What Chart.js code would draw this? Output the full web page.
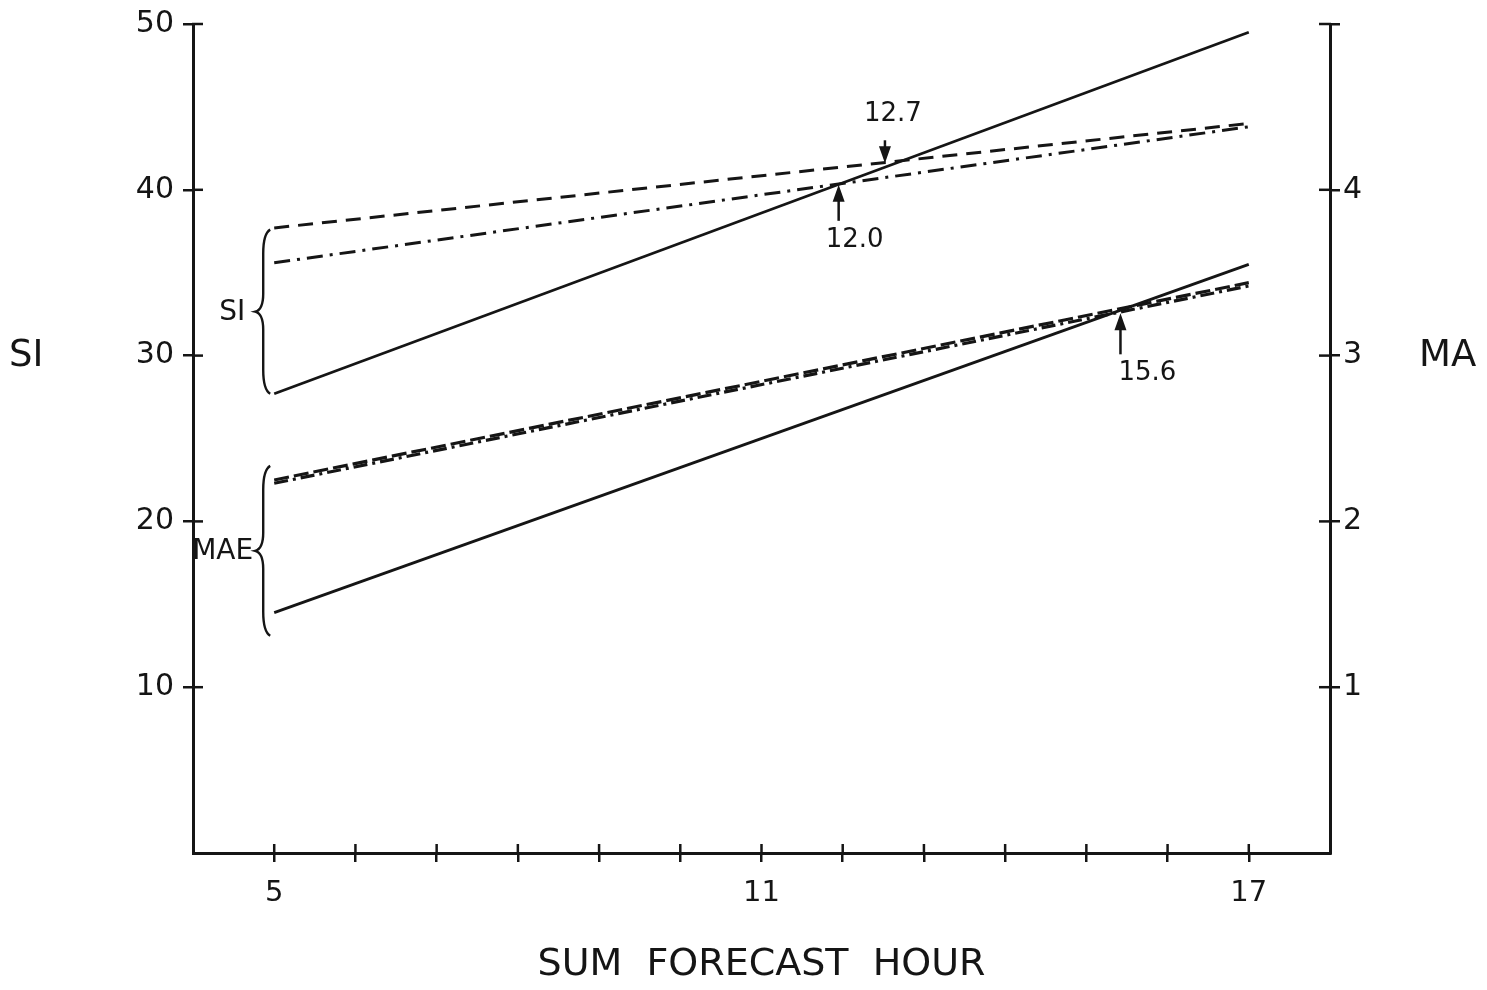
<!DOCTYPE html>
<html><head><meta charset="utf-8">
<script src="https://cdn.jsdelivr.net/npm/chart.js@4/dist/chart.umd.min.js"></script>
<style>html,body{margin:0;padding:0;background:#fff}#wrap{width:1487px;height:990px;position:relative}canvas{display:block}</style>
</head><body><div id="wrap"><canvas id="c" width="1487" height="990" style="width:1487px;height:990px"></canvas></div>
<script>
// ---- data ----
const hours = [5, 17];
const siSolid = [27.7, 49.5];      // SI, left axis
const siDashed = [37.7, 44.0];
const siDashDot = [35.6, 43.8];
const maeSolid = [1.45, 3.55];     // MAE, right axis (MA)
const maeDashed = [2.25, 3.44];
const maeDashDot = [2.23, 3.42];
const xTickValues = [5, 6, 7, 8, 9, 10, 11, 12, 13, 14, 15, 16, 17];
const xTickLabels = ['5', '11', '17'];
const siTicks = [10, 20, 30, 40, 50];
const maTicks = [1, 2, 3, 4, 5];
const maTickLabels = ['1', '2', '3', '4'];
const crossLabels = ['12.7', '12.0', '15.6'];
const crossX = [12.52, 11.95, 15.42];
const crossY = [41.6, 40.3, 32.55];
const braceLabels = ['SI', 'MAE'];
const braceTop = [37.6, 23.35];
const braceBottom = [27.7, 13.1];

// ---- styles ----
const INK = '#151515';
const FONT = "'DejaVu Sans', sans-serif";
const crossStyle = [
  {dir: 'down', len: 23, tx: 8, ty: -49},
  {dir: 'up', len: 36, tx: 16, ty: 55},
  {dir: 'up', len: 41, tx: 27, ty: 60}
];
const braceLabelGap = [10, 2];

const pts = (xs, ys) => xs.map((x, i) => ({x, y: ys[i]}));

const decor = {
  id: 'decor',
  afterDraw(chart) {
    const {ctx, scales: {x, y, y1}} = chart;
    ctx.save();
    ctx.strokeStyle = INK; ctx.fillStyle = INK; ctx.lineWidth = 2.5; ctx.lineCap = 'butt';
    const line = (a, b, c, d) => { ctx.beginPath(); ctx.moveTo(a, b); ctx.lineTo(c, d); ctx.stroke(); };
    // inner halves of the crossing tick marks
    x.ticks.forEach(t => { const p = x.getPixelForValue(t.value); line(p, x.top + 1, p, x.top - 9); });
    y.ticks.forEach(t => { const p = y.getPixelForValue(t.value); line(y.right - 1, p, y.right + 10, p); });
    y1.ticks.forEach(t => { const p = y1.getPixelForValue(t.value); line(y1.left + 1, p, y1.left - 11, p); });

    // side titles
    ctx.textBaseline = 'middle';
    ctx.font = '37px ' + FONT;
    ctx.textAlign = 'left';
    ctx.fillText('SI', 9, y.getPixelForValue(30) + 1);
    ctx.fillText('MA', 1419, y.getPixelForValue(30) + 1);

    // braces
    const x5 = x.getPixelForValue(hours[0]);
    braceLabels.forEach((lab, i) => {
      const t = y.getPixelForValue(braceTop[i]);
      const b = y.getPixelForValue(braceBottom[i]);
      const m = (t + b) / 2;
      const bx = x5 - 11, tip = x5 - 19, ex = x5 - 4;
      ctx.lineWidth = 2.4;
      ctx.beginPath();
      ctx.moveTo(ex, t);
      ctx.quadraticCurveTo(bx, t + 4, bx, t + 24);
      ctx.lineTo(bx, m - 18);
      ctx.quadraticCurveTo(bx, m - 2, tip, m);
      ctx.quadraticCurveTo(bx, m + 2, bx, m + 18);
      ctx.lineTo(bx, b - 24);
      ctx.quadraticCurveTo(bx, b - 4, ex, b);
      ctx.stroke();
      ctx.font = '28px ' + FONT;
      ctx.textAlign = 'right';
      ctx.fillText(lab, tip - braceLabelGap[i], m + 1);
    });

    // crossing arrows and labels
    ctx.font = '26px ' + FONT;
    ctx.textAlign = 'center';
    crossLabels.forEach((lab, i) => {
      const s = crossStyle[i];
      const px = x.getPixelForValue(crossX[i]);
      const py = y.getPixelForValue(crossY[i]);
      const sgn = s.dir === 'down' ? -1 : 1;
      ctx.lineWidth = 2.5;
      line(px, py + sgn * 12, px, py + sgn * s.len);
      ctx.beginPath();
      ctx.moveTo(px, py);
      ctx.lineTo(px - 6, py + sgn * 17);
      ctx.lineTo(px + 6, py + sgn * 17);
      ctx.closePath(); ctx.fill();
      ctx.fillText(lab, px + s.tx, py + s.ty);
    });
    ctx.restore();
  }
};

const common = {pointRadius: 0, borderColor: INK, fill: false, tension: 0};
new Chart(document.getElementById('c'), {
  type: 'line',
  data: {
    datasets: [
      {...common, label: 'SI solid', data: pts(hours, siSolid), borderWidth: 2.8, yAxisID: 'y'},
      {...common, label: 'SI dashed', data: pts(hours, siDashed), borderWidth: 3, borderDash: [15, 9], yAxisID: 'y'},
      {...common, label: 'SI dash-dot', data: pts(hours, siDashDot), borderWidth: 3, borderDash: [16, 7, 3, 7], yAxisID: 'y'},
      {...common, label: 'MAE solid', data: pts(hours, maeSolid), borderWidth: 2.8, yAxisID: 'y1'},
      {...common, label: 'MAE dashed', data: pts(hours, maeDashed), borderWidth: 3.2, borderDash: [15, 5], yAxisID: 'y1'},
      {...common, label: 'MAE dash-dot', data: pts(hours, maeDashDot), borderWidth: 3.2, borderDash: [14, 5, 3, 5], yAxisID: 'y1'}
    ]
  },
  options: {
    responsive: false, maintainAspectRatio: false, animation: false, devicePixelRatio: 1,
    layout: {padding: {top: 22, left: 0, right: 0, bottom: 0}},
    plugins: {legend: {display: false}, tooltip: {enabled: false}},
    scales: {
      x: {
        type: 'linear', min: 4, max: 18,
        afterBuildTicks: s => { s.ticks = xTickValues.map(v => ({value: v})); },
        afterFit: s => { s.height = 137; },
        grid: {display: true, drawOnChartArea: false, drawTicks: true, tickLength: 9, color: INK, lineWidth: 2.5},
        border: {display: true, color: INK, width: 3},
        ticks: {
          autoSkip: false, maxRotation: 0, padding: 14, color: INK,
          font: {family: FONT, size: 29},
          callback: v => xTickLabels.includes(String(v)) ? String(v) : ''
        },
        title: {display: true, text: 'SUM  FORECAST  HOUR', color: INK, font: {family: FONT, size: 38}, padding: {top: 0, bottom: 2}}
      },
      y: {
        type: 'linear', position: 'left', min: 0, max: 50,
        afterBuildTicks: s => { s.ticks = siTicks.map(v => ({value: v})); },
        afterFit: s => { s.width = 193; },
        grid: {display: true, drawOnChartArea: false, drawTicks: true, tickLength: 10, color: INK, lineWidth: 2.5},
        border: {display: true, color: INK, width: 3},
        ticks: {padding: 9, color: INK, font: {family: FONT, size: 30, lineHeight: 1}, callback: v => String(v)}
      },
      y1: {
        type: 'linear', position: 'right', min: 0, max: 5,
        afterBuildTicks: s => { s.ticks = maTicks.map(v => ({value: v})); },
        afterFit: s => { s.width = 157; },
        grid: {display: true, drawOnChartArea: false, drawTicks: true, tickLength: 10, color: INK, lineWidth: 2.5},
        border: {display: true, color: INK, width: 3},
        ticks: {padding: 3, color: INK, font: {family: FONT, size: 30, lineHeight: 1},
          callback: v => maTickLabels.includes(String(v)) ? String(v) : ''}
      }
    }
  },
  plugins: [decor]
});
</script></body></html>
